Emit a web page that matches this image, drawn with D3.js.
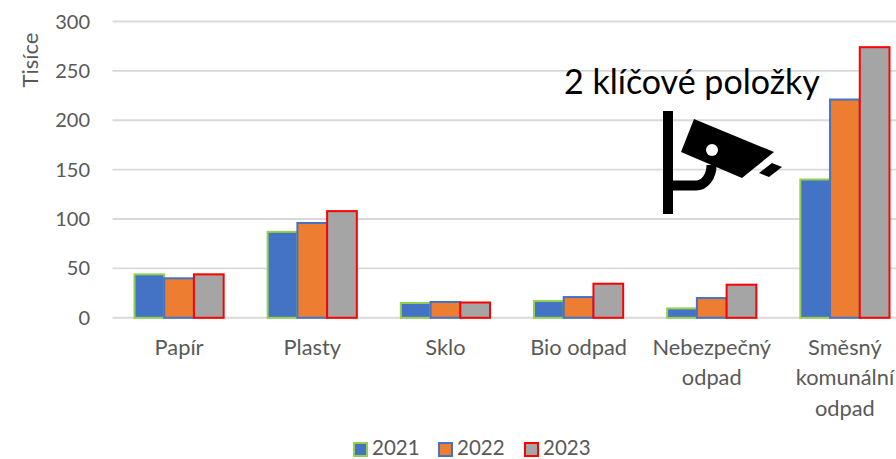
<!DOCTYPE html>
<html><head><meta charset="utf-8">
<script src="https://cdn.jsdelivr.net/npm/d3@7"></script>
<style>html,body{margin:0;padding:0;background:#fff}svg{display:block}text{font-family:Lato,"Noto Sans",sans-serif}</style>
</head><body><svg id="c" width="896" height="459"></svg>
<script>
const categories=[["Papír"],["Plasty"],["Sklo"],["Bio odpad"],["Nebezpečný","odpad"],["Směsný","komunální","odpad"]];
const years=["2021","2022","2023"];
const v2021=[44,87,15,17,9.5,140];
const v2022=[40,96,16,21,20,221];
const v2023=[44,108,15.5,34.5,33.5,274];
const yTicks=[0,50,100,150,200,250,300];
const series=[v2021,v2022,v2023];
const fills=["#4472C4","#ED7D31","#A5A5A5"];
const strokes=["#92D050","#4472C4","#FF0000"];

const svg=d3.select("#c");
const x=d3.scaleBand().domain(d3.range(categories.length)).range([112.5,911.5]).paddingInner(0).paddingOuter(0);
const inner=d3.scaleBand().domain(d3.range(3)).range([22,x.bandwidth()-22]);
const y=d3.scaleLinear().domain([0,300]).range([317.8,21.5]);

const grid=svg.append("g");
grid.selectAll("line").data(yTicks).join("line")
 .attr("x1",112.5).attr("x2",896).attr("y1",d=>y(d)).attr("y2",d=>y(d))
 .attr("stroke","#D9D9D9").attr("stroke-width",1.9);
svg.append("g").selectAll("text").data(yTicks).join("text")
 .attr("x",90).attr("y",d=>y(d)+7).attr("text-anchor","end")
 .attr("fill","#595959").attr("font-size",20).text(d=>d);
svg.append("text").attr("transform","translate(38,60) rotate(-90)").attr("text-anchor","middle")
 .attr("fill","#595959").attr("font-size",22).text("Tisíce");

series.forEach((vals,s)=>{
 svg.append("g").selectAll("rect").data(vals).join("rect")
  .attr("x",(d,i)=>x(i)+inner(s)).attr("width",inner.bandwidth())
  .attr("y",d=>y(d)).attr("height",d=>y(0)-y(d))
  .attr("fill",fills[s]).attr("stroke",strokes[s]).attr("stroke-width",2);
});

categories.forEach((lines,i)=>{
 lines.forEach((t,j)=>{
  svg.append("text").attr("x",x(i)+x.bandwidth()/2).attr("y",355+j*30.3)
   .attr("text-anchor","middle").attr("fill","#595959").attr("font-size",21.8).text(t);
 });
});

// legend
const lx=[354,439,525];
years.forEach((yr,i)=>{
 svg.append("rect").attr("x",lx[i]).attr("y",443).attr("width",13).attr("height",13)
  .attr("fill",fills[i]).attr("stroke",strokes[i]).attr("stroke-width",2);
 svg.append("text").attr("x",lx[i]+18).attr("y",454.5).attr("fill","#595959").attr("font-size",20.5).text(yr);
});

// annotation
svg.append("text").attr("x",564).attr("y",94).attr("fill","#000").attr("font-size",34).text("2 klíčové položky");
const icon=svg.append("g");
icon.append("rect").attr("x",663).attr("y",111).attr("width",10).attr("height",103).attr("fill","#000");
icon.append("path").attr("d","M673 185.5 H696 A15.5 20 0 0 0 711.5 165").attr("fill","none").attr("stroke","#000").attr("stroke-width",10);
icon.append("path").attr("d","M694 119 L774 152 L742 178 L681 152 Z").attr("fill","#000");
icon.append("circle").attr("cx",712).attr("cy",150).attr("r",6).attr("fill","#fff");
icon.append("path").attr("d","M772 163 L782 167 L769 177 L759 173 Z").attr("fill","#000");
</script></body></html>
